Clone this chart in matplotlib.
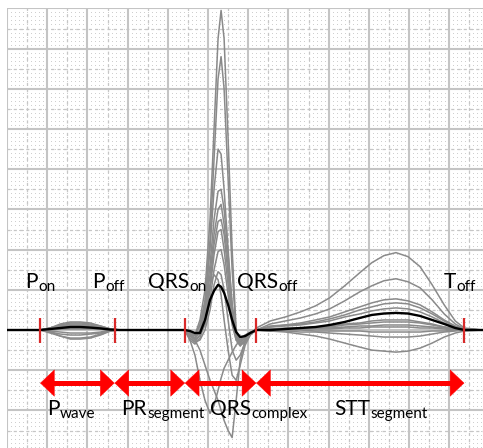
import numpy as np
import matplotlib
matplotlib.use("Agg")
import matplotlib.pyplot as plt
from matplotlib.patches import FancyArrowPatch

# ---------------- data (time in ms, amplitude in µV) ----------------
time_ms = [0, 33, 43, 53, 63, 73, 83, 93, 103, 112, 142,
           177, 182, 187, 192, 197, 202, 206, 210, 213, 216, 220, 224, 228, 232, 237, 242, 248,
           262, 277, 292, 307, 321, 336, 351, 363, 375, 387, 399, 411, 423, 435, 446, 455, 473]

lead_01 = [0, 0, 10, 20, 30, 30, 25, 15, 5, 0, 0,
           0, -15, -25, 50, 200, 550, 1000, 1450, 1590, 1450, 950, 400, 0, -75, -60, -25, 10,
           45, 65, 90, 120, 160, 220, 285, 335, 370, 385, 365, 315, 225, 125, 45, 10, 0]
lead_02 = [0, 0, 10, 20, 25, 25, 20, 15, 5, 0, 0,
           0, -20, -30, 25, 150, 450, 850, 1250, 1360, 1200, 750, 300, -25, -75, -50, -20, 0,
           30, 45, 60, 80, 105, 145, 190, 220, 245, 255, 240, 210, 150, 80, 30, 5, 0]
lead_03 = [0, 0, 5, 15, 20, 20, 15, 10, 0, 0, 0,
           0, -25, -40, 0, 125, 400, 700, 900, 875, 700, 400, 125, -40, -70, -50, -20, 0,
           20, 25, 35, 50, 65, 90, 115, 135, 150, 155, 145, 125, 90, 50, 20, 5, 0]
lead_04 = [0, 0, 5, 10, 15, 15, 15, 10, 0, 0, 0,
           0, -30, -45, 0, 100, 325, 550, 690, 700, 600, 375, 125, -25, -60, -40, -15, 0,
           15, 25, 30, 40, 55, 75, 100, 115, 130, 135, 130, 110, 80, 45, 15, 5, 0]
lead_05 = [0, 0, -5, -10, -15, -15, -15, -10, 0, 0, 0,
           0, -20, -40, -10, 90, 275, 475, 600, 625, 525, 325, 100, -25, -50, -35, -15, 0,
           15, 20, 25, 35, 45, 65, 80, 95, 105, 110, 105, 90, 65, 35, 15, 0, 0]
lead_06 = [0, 0, 10, 30, 40, 40, 35, 20, 5, 0, 0,
           0, -40, -60, -25, 50, 225, 425, 540, 550, 475, 275, 75, -40, -75, -50, -20, 0,
           5, 10, 10, 15, 20, 30, 35, 45, 50, 50, 50, 40, 30, 15, 5, 0, 0]
lead_07 = [0, 0, -10, -30, -40, -40, -35, -20, -5, 0, 0,
           0, -50, -70, -40, 40, 200, 375, 490, 500, 400, 225, 50, -50, -80, -50, -20, 0,
           5, 5, 5, 10, 10, 15, 20, 20, 25, 25, 25, 20, 15, 10, 5, 0, 0]
lead_08 = [0, 0, 5, 5, 10, 10, 10, 5, 0, 0, 0,
           0, -25, -50, -25, 25, 150, 300, 390, 400, 325, 175, 25, -50, -60, -40, -15, 0,
           0, 5, 5, 5, 5, 10, 10, 15, 15, 15, 15, 10, 10, 5, 0, 0, 0]
lead_09 = [0, 0, -15, -30, -45, -45, -40, -25, -5, 0, 0,
           0, -25, -50, -100, -175, -250, -300, -350, -400, -450, -500, -535, -350, -150, -50, -15, 0,
           -5, -10, -20, -30, -45, -65, -85, -100, -105, -110, -105, -90, -65, -35, -15, -5, 0]
lead_10 = [0, 0, -10, -20, -25, -25, -20, -15, -5, 0, 0,
           0, -50, -125, -250, -350, -415, -375, -300, -240, -190, -150, -110, -75, -50, -25, -10, 0,
           -5, -5, -10, -10, -15, -20, -25, -30, -35, -35, -35, -30, -20, -10, -5, 0, 0]
lead_11 = [0, 0, 10, 25, 35, 35, 30, 20, 5, 0, 0,
           0, -15, -25, 25, 125, 225, 275, 250, 175, 50, -100, -225, -250, -175, -75, -25, 0,
           5, 5, 10, 10, 15, 25, 30, 35, 40, 40, 40, 35, 25, 15, 5, 0, 0]
lead_12 = [0, 0, 0, 5, 5, 5, 5, 5, 0, 0, 0,
           0, -40, -60, -50, 0, 100, 225, 290, 275, 200, 50, -100, -150, -125, -60, -20, 0,
           0, 0, 0, -5, -5, -5, -5, -10, -10, -10, -10, -10, -5, -5, 0, 0, 0]
median_beat = [0, 0, 5, 10, 15, 15, 12, 8, 2, 0, 0,
               0, -5, -15, -15, 50, 150, 195, 225, 215, 185, 125, 50, -10, -35, -30, -15, 0,
               0, 5, 10, 15, 25, 40, 60, 75, 82, 85, 82, 70, 50, 30, 10, 0, 0]

gray_leads = [lead_01, lead_02, lead_03, lead_04, lead_05, lead_06,
              lead_07, lead_08, lead_09, lead_10, lead_11, lead_12]

fiducials_ms = [33, 107, 177, 248, 455]
fiducial_main = ["P", "P", "QRS", "QRS", "T"]
fiducial_sub = ["on", "off", "on", "off", "off"]
interval_main = ["P", "PR", "QRS", "STT"]
interval_sub = ["wave", "segment", "complex", "segment"]

# ---------------- layout / style ----------------
W, H = 483, 448
DPI = 100
fig = plt.figure(figsize=(W / DPI, H / DPI), dpi=DPI)
ax = fig.add_axes([7 / W, 0, 476 / W, 440 / H])
XMAX, YMIN, YMAX = 473.6, -587, 1602
ax.set_xlim(0, XMAX)
ax.set_ylim(YMIN, YMAX)
ax.axis("off")

FONT = ["Lato", "DejaVu Sans"]
MAIN_FS = 15
SUB_FS = 11
RED_ARROW = "#ff0000"
RED_TICK = "#d92a2a"

# ECG paper grid
dx_minor = np.arange(0, XMAX + 0.1, 4)
dy_minor = np.arange(-580, YMAX + 0.1, 20)
gx, gy = np.meshgrid(dx_minor, dy_minor)
ax.plot(gx.ravel(), gy.ravel(), ls="none", marker="s", ms=0.7, mew=0,
        color="#cfcfcf", zorder=0)
for xm in np.arange(20, XMAX, 40):
    ax.axvline(xm, color="#c6c6c6", lw=0.9, ls=(0, (2.5, 2.5)), zorder=0.5)
for ym in np.arange(-500, YMAX, 200):
    ax.axhline(ym, color="#c6c6c6", lw=0.9, ls=(0, (2.5, 2.5)), zorder=0.5)
for xM in np.arange(0, XMAX, 40):
    ax.axvline(xM, color="#c4c4c4", lw=1.5, zorder=1)
for yM in np.arange(-400, YMAX, 200):
    ax.axhline(yM, color="#c4c4c4", lw=1.5, zorder=1)

# traces
for lead in gray_leads:
    ax.plot(time_ms, lead, color="#8a8a8a", lw=1.1, zorder=2, solid_joinstyle="round")
ax.plot(time_ms, median_beat, color="black", lw=1.7, zorder=3, solid_joinstyle="round")

# fiducial marks
ax.vlines(fiducials_ms, -65, 60, color=RED_TICK, lw=1.6, zorder=4)

# interval arrows
ARROW_Y = -264
for a, b in zip(fiducials_ms[:-1], fiducials_ms[1:]):
    ax.plot([a + 4, b - 4], [ARROW_Y, ARROW_Y], color=RED_ARROW, lw=3.6,
            solid_capstyle="butt", zorder=5)
    ar = FancyArrowPatch((a, ARROW_Y), (b, ARROW_Y),
                         arrowstyle="<|-|>,head_length=1.0,head_width=0.95",
                         mutation_scale=10, lw=0.3, color=RED_ARROW,
                         shrinkA=0, shrinkB=0, zorder=5)
    ax.add_patch(ar)


def sub_label(x, y, main, sub):
    t = ax.text(x, y, main, fontsize=MAIN_FS, family=FONT, ha="left",
                va="baseline", zorder=6)
    ax.annotate(sub, xy=(1, 0), xycoords=t, xytext=(0.3, -1.2),
                textcoords="offset points", fontsize=SUB_FS, family=FONT,
                ha="left", va="bottom", zorder=6)


top_label_x = [18, 85, 140, 229, 435]
for x, m, s in zip(top_label_x, fiducial_main, fiducial_sub):
    sub_label(x, 209, m, s)

bottom_label_x = [40, 114, 202, 326]
for x, m, s in zip(bottom_label_x, interval_main, interval_sub):
    sub_label(x, -423, m, s)

fig.savefig("out.png", dpi=DPI, facecolor="white")
